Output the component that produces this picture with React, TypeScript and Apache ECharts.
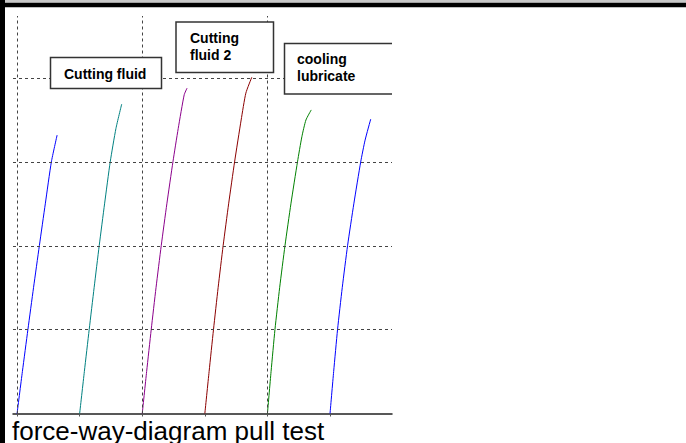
import React, { useEffect, useRef } from "react";
import * as echarts from "echarts";

// force-way curves: [way, force] pairs
const curveBlue1: number[][] = [[0, 0], [0.085, 0.5], [0.173, 1.0], [0.263, 1.5], [0.356, 2.0], [0.451, 2.5], [0.548, 3.0], [0.64, 3.32]];
const curveTeal: number[][] = [[1.0, 0], [1.075, 0.5], [1.152, 1.0], [1.231, 1.5], [1.312, 2.0], [1.398, 2.5], [1.488, 3.0], [1.58, 3.4], [1.672, 3.69]];
const curvePurple: number[][] = [[2.0, 0], [2.07, 0.5], [2.143, 1.0], [2.22, 1.5], [2.303, 2.0], [2.393, 2.5], [2.49, 3.0], [2.575, 3.4], [2.67, 3.8], [2.716, 3.88]];
const curveRed: number[][] = [[3.0, 0], [3.068, 0.5], [3.138, 1.0], [3.212, 1.5], [3.292, 2.0], [3.38, 2.5], [3.475, 3.0], [3.58, 3.5], [3.655, 3.82], [3.75, 4.01]];
const curveGreen: number[][] = [[4.0, 0], [4.058, 0.5], [4.12, 1.0], [4.195, 1.5], [4.28, 2.0], [4.375, 2.5], [4.48, 3.0], [4.55, 3.3], [4.615, 3.5], [4.7, 3.62]];
const curveBlue2: number[][] = [[5.0, 0], [5.058, 0.5], [5.12, 1.0], [5.195, 1.5], [5.28, 2.0], [5.38, 2.5], [5.49, 3.0], [5.56, 3.26], [5.65, 3.51]];

const curveColors = ["#0000ff", "#008080", "#8b008b", "#8b0000", "#008000", "#0000ff"];
const xTickValues = [0, 1, 2, 3, 4, 5];
const xGridValues = [0, 2, 4];
const yGridValues = [1, 2, 3, 4];

const titleText = "force-way-diagram pull test";
const label1 = "Cutting fluid";
const label2 = "Cutting\nfluid 2";
const label3 = "cooling\nlubricate";

export default function App() {
  const ref = useRef<HTMLDivElement>(null);
  useEffect(() => {
    document.body.style.margin = "0";
    const chart = echarts.init(ref.current!, null, { renderer: "svg" });
    const curves = [curveBlue1, curveTeal, curvePurple, curveRed, curveGreen, curveBlue2];
    const family = "Arial";
    const series: any[] = curves.map((d, i) => ({
      type: "line",
      data: d,
      smooth: 0.2,
      showSymbol: false,
      symbol: "none",
      z: 3,
      lineStyle: { color: curveColors[i], width: 1 },
    }));
    series.push({
      type: "line",
      data: [],
      silent: true,
      z: 1,
      markLine: {
        silent: true,
        symbol: ["none", "none"],
        label: { show: false },
        lineStyle: { type: [3, 3], color: "#444", width: 1 },
        data: [
          ...xGridValues.map((v) => ({ xAxis: v })),
          ...yGridValues.map((v) => ({ yAxis: v })),
        ],
      },
    });
    const labelStyle = (text: string) => ({
      text,
      fontFamily: family,
      fontSize: 14,
      fontWeight: "bold",
      lineHeight: 17,
      fill: "#000",
      verticalAlign: "top",
    });
    chart.setOption({
      animation: false,
      grid: { left: 13, right: 294, top: 16, bottom: 29.5, containLabel: false },
      xAxis: {
        type: "value",
        min: -0.065,
        max: 5.99,
        axisLine: { show: true, lineStyle: { color: "#222", width: 1.5 } },
        axisTick: { show: true, customValues: xTickValues, length: 3, lineStyle: { color: "#555" } },
        axisLabel: { show: false },
        splitLine: { show: false },
      },
      yAxis: {
        type: "value",
        min: 0,
        max: 4.74,
        axisLine: { show: false },
        axisTick: { show: false },
        axisLabel: { show: false },
        splitLine: { show: false },
      },
      series,
      graphic: [
        { type: "rect", shape: { x: 0, y: 0, width: 5, height: 443 }, style: { fill: "#000" }, z: 10 },
        { type: "rect", shape: { x: 5, y: 0, width: 681, height: 2.7 }, style: { fill: "#c8c8c8" }, z: 10 },
        { type: "rect", shape: { x: 5, y: 2.7, width: 681, height: 4.6 }, style: { fill: "#000" }, z: 10 },
        {
          type: "rect",
          shape: { x: 50.5, y: 57.5, width: 111, height: 31 },
          style: { fill: "#fff", stroke: "#333", lineWidth: 1.5 },
          z: 10,
        },
        { type: "text", x: 64, y: 65.3, style: labelStyle(label1), z: 11 },
        {
          type: "rect",
          shape: { x: 176, y: 22, width: 97.5, height: 50.5 },
          style: { fill: "#fff", stroke: "#333", lineWidth: 1.5 },
          z: 10,
        },
        { type: "text", x: 190, y: 29.5, style: labelStyle(label2), z: 11 },
        {
          type: "rect",
          shape: { x: 284.5, y: 43.5, width: 107.5, height: 50.5 },
          style: { fill: "#fff" },
          z: 10,
        },
        {
          type: "polyline",
          shape: { points: [[392, 43.5], [284.5, 43.5], [284.5, 94], [392, 94]] },
          style: { fill: null, stroke: "#333", lineWidth: 1.5 },
          z: 10,
        },
        { type: "text", x: 297, y: 50.5, style: labelStyle(label3), z: 11 },
        {
          type: "text",
          x: 12,
          y: 418,
          style: { text: titleText, fontFamily: family, fontSize: 26, fill: "#000", verticalAlign: "top" },
          z: 11,
        },
      ],
    });
    return () => chart.dispose();
  }, []);
  return <div ref={ref} style={{ width: 686, height: 443 }} />;
}
